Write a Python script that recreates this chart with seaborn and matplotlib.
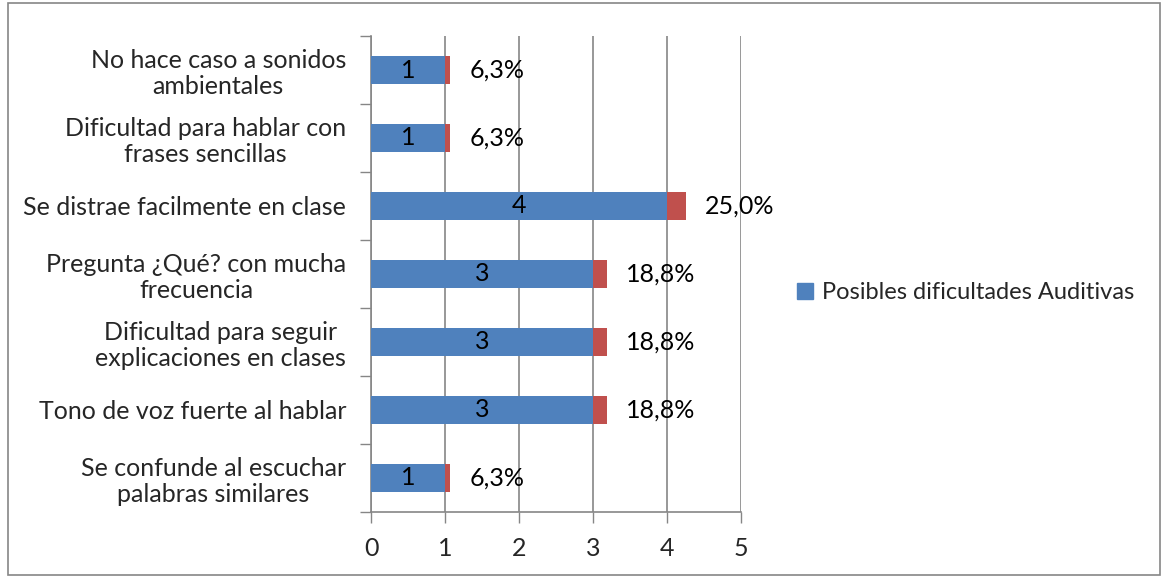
import matplotlib
matplotlib.use("Agg")
import matplotlib.pyplot as plt
import seaborn as sns
import pandas as pd
import numpy as np
from matplotlib.ticker import FixedLocator, NullFormatter, FixedFormatter
from matplotlib.patches import Rectangle, Patch

categories = [
    "No hace caso a sonidos\nambientales",
    "Dificultad para hablar con\nfrases sencillas",
    "Se distrae facilmente en clase",
    "Pregunta ¿Qué? con mucha\nfrecuencia",
    "Dificultad para seguir\nexplicaciones en clases",
    "Tono de voz fuerte al hablar",
    "Se confunde al escuchar\npalabras similares",
]
counts = [1, 1, 4, 3, 3, 3, 1]
percents = [0.063, 0.063, 0.25, 0.188, 0.188, 0.188, 0.063]
pct_labels = ["6,3%", "6,3%", "25,0%", "18,8%", "18,8%", "18,8%", "6,3%"]
legend_label = "Posibles dificultades Auditivas"
x_ticks = [0, 1, 2, 3, 4, 5]

BLUE = "#4F81BD"
RED = "#C0504D"
GRID = "#868686"
FS = 18

sns.set_theme(style="white")
plt.rcParams["font.family"] = ["Lato", "DejaVu Sans"]

df = pd.DataFrame({"cat": categories, "count": counts, "pct": percents})
df["total"] = df["count"] + df["pct"]

fig = plt.figure(figsize=(11.62, 5.77), dpi=100)
ax = fig.add_axes([0.3193, 0.1127, 0.3184, 0.8249])

sns.barplot(data=df, y="cat", x="total", order=categories, color=RED,
            width=0.4, saturation=1, ax=ax, orient="h", zorder=3, linewidth=0)
sns.barplot(data=df, y="cat", x="count", order=categories, color=BLUE,
            width=0.4, saturation=1, ax=ax, orient="h", zorder=4, linewidth=0)

ax.set_xlim(0, 5)
ax.set_ylim(len(categories) - 0.5, -0.5)
ax.set_xlabel("")
ax.set_ylabel("")

# gridlines
ax.set_xticks(x_ticks)
ax.set_xticklabels([str(t) for t in x_ticks], fontsize=FS)
ax.xaxis.grid(True, color=GRID, linewidth=1.2, zorder=0)
ax.set_axisbelow(True)
ax.yaxis.grid(False)

# y ticks: marks at boundaries, labels at centres
n = len(categories)
ax.yaxis.set_major_locator(FixedLocator(np.arange(-0.5, n, 1.0)))
ax.yaxis.set_major_formatter(NullFormatter())
ax.yaxis.set_minor_locator(FixedLocator(np.arange(n)))
ax.yaxis.set_minor_formatter(FixedFormatter(categories))
ax.tick_params(axis="y", which="major", length=8, width=1, color=GRID, left=True)
ax.tick_params(axis="y", which="minor", length=0, pad=18, labelsize=FS)
ax.tick_params(axis="x", which="major", length=8, width=1, color=GRID, bottom=True,
               pad=10)
for lbl in ax.get_yticklabels(minor=True):
    lbl.set_multialignment("center")
    lbl.set_linespacing(1.15)

for s in ["top", "right"]:
    ax.spines[s].set_visible(False)
for s in ["left", "bottom"]:
    ax.spines[s].set_color(GRID)
    ax.spines[s].set_linewidth(1.2)

# labels
for i, (c, p, t) in enumerate(zip(counts, percents, pct_labels)):
    ax.text(c / 2, i, str(c), ha="center", va="center", fontsize=FS, color="black", zorder=5)
    ax.annotate(t, xy=(c + p, i), xytext=(14, 0), textcoords="offset points",
                ha="left", va="center", fontsize=FS, color="black", zorder=5)

# legend
handles = [Patch(facecolor=BLUE, edgecolor=BLUE, label=legend_label)]
fig.legend(handles=handles, loc="center left", bbox_to_anchor=(0.678, 0.493),
           frameon=False, fontsize=17, handlelength=0.65, handleheight=0.65,
           handletextpad=0.4, borderaxespad=0)

# outer border
fig.patches.append(Rectangle((0.007, 0.004), 0.991, 0.991, transform=fig.transFigure,
                             fill=False, edgecolor=GRID, linewidth=1.2))

fig.savefig("out.png", dpi=100)
